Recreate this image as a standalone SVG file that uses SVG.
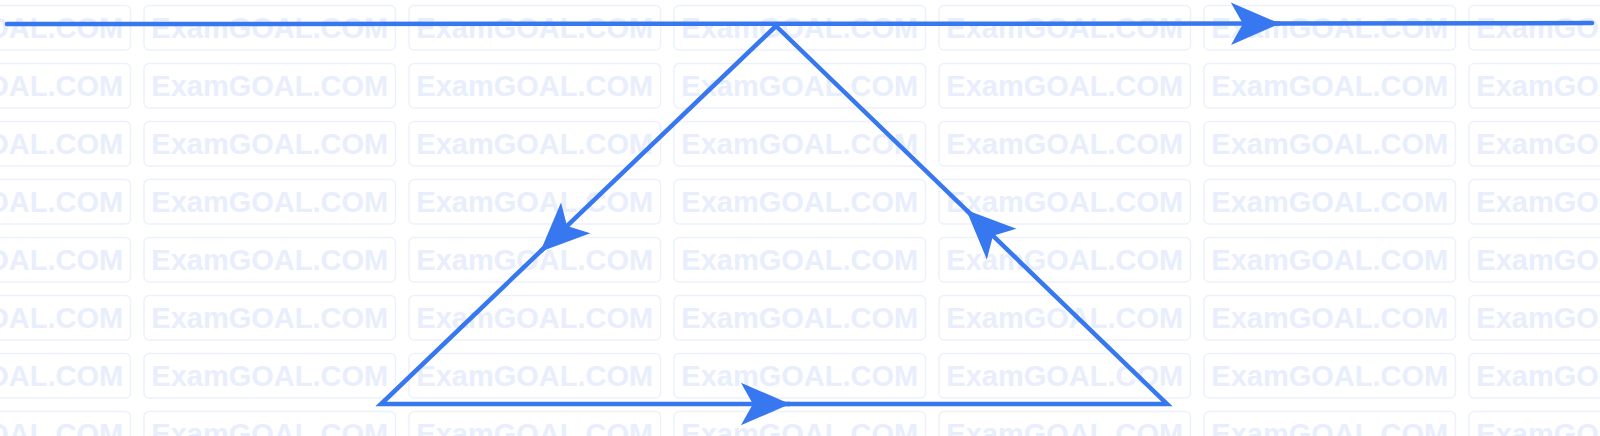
<svg xmlns="http://www.w3.org/2000/svg" width="1600" height="436" viewBox="0 0 1600 436">
  <style>
    .wm-box { fill: none; stroke: #edf1fb; stroke-width: 1.5; }
    .wm-text { fill: #e8eefc; font-family: "Liberation Sans", Arial, sans-serif; font-weight: bold; font-size: 29px; text-anchor: middle; }
    .edge { fill: none; stroke: #3778f0; stroke-width: 4.5; stroke-linejoin: miter; stroke-miterlimit: 10; stroke-linecap: round; }
    .head { fill: none; stroke: #3778f0; stroke-width: 4.5; }
  </style>
  <defs>
    <marker id="arrow" markerUnits="userSpaceOnUse" markerWidth="60" markerHeight="60" viewBox="-50 -25 55 50" refX="0" refY="0" orient="auto" overflow="visible">
      <path d="M0,0 L-45,-19.5 L-34,0 L-45,19.5 Z" fill="#3778f0"/>
    </marker>
    <g id="wm">
      <rect class="wm-box" x="0" y="0" width="251.5" height="44.5" rx="5"/>
      <text class="wm-text" x="125.75" y="32.5">ExamGOAL.COM</text>
    </g>
    <g id="wmrow">
      <use href="#wm" x="-121"/>
      <use href="#wm" x="144"/>
      <use href="#wm" x="409"/>
      <use href="#wm" x="674"/>
      <use href="#wm" x="939"/>
      <use href="#wm" x="1204"/>
      <use href="#wm" x="1469"/>
    </g>
  </defs>
  <rect width="1600" height="436" fill="#ffffff"/>
  <g id="watermark">
    <use href="#wmrow" y="5.5"/>
    <use href="#wmrow" y="63.5"/>
    <use href="#wmrow" y="121.5"/>
    <use href="#wmrow" y="179.5"/>
    <use href="#wmrow" y="237.5"/>
    <use href="#wmrow" y="295.5"/>
    <use href="#wmrow" y="353.5"/>
    <use href="#wmrow" y="411.5"/>
  </g>
  <g id="connectors">
    <path id="top-line" class="edge" d="M7,24 L1280,23.6 L1592,23"/>
    <path id="triangle" class="edge" d="M776,26 L381,404 L1167,404 Z"/>
    <path id="top-arrow" class="head" d="M1260,23.7 L1280,23.6" marker-end="url(#arrow)"/>
    <path id="left-arrow" class="head" d="M554.65,237.9 L540.2,251.7" marker-end="url(#arrow)"/>
    <path id="bottom-arrow" class="head" d="M770,404 L790,404" marker-end="url(#arrow)"/>
    <path id="right-arrow" class="head" d="M980.7,223.9 L966.3,210" marker-end="url(#arrow)"/>
  </g>
</svg>
